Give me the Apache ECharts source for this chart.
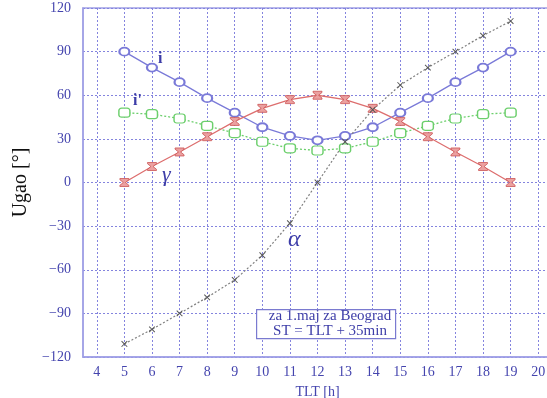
<!DOCTYPE html>
<html>
<head>
<meta charset="utf-8">
<script src="https://cdn.jsdelivr.net/npm/echarts@6/dist/echarts.min.js"></script>
<style>
  html, body { margin: 0; padding: 0; background: #fff; }
  #chart { width: 547px; height: 398px; }
</style>
</head>
<body>
<div id="chart"></div>
<script>
// Solar hour (TLT) and angles for 1 May, Beograd
const hours = [5, 6, 7, 8, 9, 10, 11, 12, 13, 14, 15, 16, 17, 18, 19];
const incidence = [90, 79, 69, 58, 48, 38, 32, 29, 32, 38, 48, 58, 69, 79, 90];          // i
const incidenceTilted = [48, 47, 44, 39, 34, 28, 23.5, 22, 23.5, 28, 34, 39, 44, 47, 48]; // i'
const elevation = [0, 11, 21, 31.5, 42, 51, 57, 60, 57, 51, 42, 31.5, 21, 11, 0];        // gamma
const azimuth = [-111, -101, -90, -79, -67, -50, -28, 0, 28, 50, 67, 79, 90, 101, 111];   // alpha
const yTicks = [-120, -90, -60, -30, 0, 30, 60, 90, 120];
const xTicks = [4, 5, 6, 7, 8, 9, 10, 11, 12, 13, 14, 15, 16, 17, 18, 19, 20];

const serif = '"Liberation Serif", "DejaVu Serif", serif';
const axisBlue = '#a0a0e6';
const labelBlue = '#4444ae';
const gridLine = { show: true, lineStyle: { color: '#8484de', type: [2, 2], width: 1 } };

function pairs(ys) { return hours.map((h, k) => [h, ys[k]]); }

const hourglass = 'path://M0,0 L10,0 L10,1.5 L6.2,5 L10,8.5 L10,10 L0,10 L0,8.5 L3.8,5 L0,1.5 Z';
const asterisk = 'path://M4.4,0 L5.6,0 L5.6,4.4 L10,4.4 L10,5.6 L5.6,5.6 L5.6,10 L4.4,10 L4.4,5.6 L0,5.6 L0,4.4 L4.4,4.4 Z';

const chart = echarts.init(document.getElementById('chart'), null, { renderer: 'canvas' });
chart.setOption({
  animation: false,
  backgroundColor: '#fff',
  grid: {
    left: 83, top: 8, width: 469, height: 349,
    outerBoundsMode: 'none', containLabel: false,
    show: true, borderColor: axisBlue, borderWidth: 1.5, backgroundColor: 'transparent'
  },
  xAxis: {
    type: 'value', min: 3.5, max: 20.5,
    name: 'TLT [h]', nameLocation: 'middle', nameGap: 28,
    nameTextStyle: { fontFamily: serif, fontSize: 14, color: labelBlue },
    axisLine: { show: true, onZero: false, lineStyle: { color: axisBlue, width: 1.5 } },
    axisTick: { show: false, customValues: xTicks },
    axisLabel: {
      fontFamily: serif, fontSize: 14, color: labelBlue, margin: 8,
      customValues: xTicks
    },
    splitLine: gridLine
  },
  yAxis: {
    type: 'value', min: -120, max: 120, interval: 30,
    name: 'Ugao [°]', nameLocation: 'middle', nameGap: 45,
    nameTextStyle: { fontFamily: serif, fontSize: 20, color: '#111' },
    axisLine: { show: true, onZero: false, lineStyle: { color: axisBlue, width: 1.5 } },
    axisTick: { show: false },
    axisLabel: {
      fontFamily: serif, fontSize: 14, color: labelBlue, margin: 12,
      formatter: v => (yTicks.includes(v) ? String(v).replace('-', '\u2212') : '')
    },
    splitLine: gridLine
  },
  series: [
    {
      name: 'i', type: 'line', data: pairs(incidence),
      lineStyle: { color: '#7a7ad8', width: 1.3 },
      symbol: 'emptyCircle', symbolSize: [10, 8],
      itemStyle: { color: '#7a7ad8', borderColor: '#7a7ad8', borderWidth: 1.2 }
    },
    {
      name: "i'", type: 'line', data: pairs(incidenceTilted),
      lineStyle: { color: '#6ccf6c', width: 1.3, type: [2, 2] },
      symbol: 'roundRect', symbolSize: [11, 9],
      itemStyle: { color: '#fff', borderColor: '#6ccf6c', borderWidth: 1.3 }
    },
    {
      name: 'γ', type: 'line', data: pairs(elevation),
      lineStyle: { color: '#dd6e6e', width: 1.3 },
      symbol: hourglass, symbolSize: [9, 8], symbolKeepAspect: false,
      itemStyle: { color: '#eba0a0', borderColor: '#cc5555', borderWidth: 0.8 }
    },
    {
      name: 'α', type: 'line', data: pairs(azimuth),
      lineStyle: { color: '#808080', width: 1.2, type: [2, 2] },
      symbol: asterisk, symbolSize: 8, symbolRotate: 45,
      itemStyle: { color: '#555' }
    }
  ],
  graphic: [
    { type: 'text', z: 100, left: 158, top: 51, style: { text: 'i', font: 'bold 16px ' + serif, fill: '#3d3da8' } },
    { type: 'text', z: 100, left: 133, top: 93, style: { text: "i'", font: 'bold 16px ' + serif, fill: '#3d3da8' } },
    { type: 'text', z: 100, left: 162, top: 164, style: { text: 'γ', font: 'italic 22px ' + serif, fill: '#3d3da8' } },
    { type: 'text', z: 100, left: 288, top: 228, style: { text: 'α', font: 'italic 24px ' + serif, fill: '#3d3da8' } },
    {
      type: 'rect', z: 100, left: 256, top: 309,
      shape: { width: 139, height: 29 },
      style: { fill: '#fff', stroke: '#7a7ad0', lineWidth: 1.2 }
    },
    {
      type: 'text', z: 101, x: 330, y: 324,
      style: {
        text: 'za 1.maj za Beograd\nST = TLT + 35min',
        font: '15px ' + serif, fill: '#3d3da8', lineHeight: 15,
        align: 'center', verticalAlign: 'middle'
      }
    }
  ]
});
</script>
</body>
</html>
